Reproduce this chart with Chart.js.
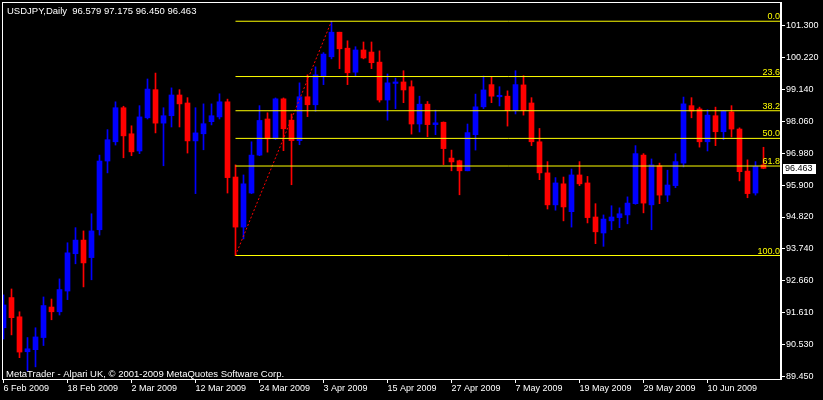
<!DOCTYPE html>
<html>
<head>
<meta charset="utf-8">
<script src="https://cdn.jsdelivr.net/npm/chart.js@4.4.1/dist/chart.umd.min.js"></script>
<style>
  html, body { margin: 0; padding: 0; background: #000; }
  canvas { display: block; }
</style>
</head>
<body>
<canvas id="chart" width="823" height="400"></canvas>
<script>
// USDJPY daily bars, 6 Feb 2009 .. 19 Jun 2009
const opens = [
  91.08, 92.10, 91.45, 90.27, 90.34, 90.75, 91.78, 91.62, 92.32, 93.58,
  94.04, 93.45, 94.39, 96.71, 97.36, 98.51, 97.63, 97.05, 98.17, 99.12,
  97.99, 98.24, 98.94, 98.67, 97.39, 97.63, 98.04, 98.20, 98.71, 96.17,
  94.48, 95.63, 96.91, 98.13, 97.46, 98.81, 98.09, 97.40, 98.88, 98.61,
  99.58, 100.23, 101.06, 100.52, 99.71, 100.46, 100.39, 100.05, 98.77, 99.33,
  99.38, 99.22, 97.96, 98.63, 97.94, 98.02, 96.81, 96.72, 96.38, 97.60,
  98.54, 99.29, 98.88, 98.90, 98.41, 99.28, 98.67, 97.36, 96.31, 95.23,
  95.94, 95.00, 96.24, 95.97, 94.82, 94.28, 94.69, 94.80, 94.89, 95.27,
  96.91, 95.23, 96.55, 95.56, 95.88, 96.64, 98.58, 98.47, 97.36, 98.24,
  97.70, 98.37, 97.79, 96.37, 95.63, 96.579
];
const highs = [
  92.19, 92.39, 91.62, 90.75, 91.08, 92.12, 92.05, 92.73, 93.95, 94.46,
  94.35, 94.93, 96.91, 97.77, 98.71, 98.56, 97.90, 98.58, 99.48, 99.68,
  98.51, 99.18, 99.12, 98.85, 98.51, 98.64, 98.64, 98.98, 98.80, 96.58,
  96.24, 97.36, 98.58, 98.34, 98.84, 98.84, 98.30, 99.35, 99.62, 99.89,
  100.37, 101.43, 101.06, 100.77, 100.57, 100.73, 100.73, 100.43, 99.65, 99.51,
  99.76, 99.42, 98.90, 98.72, 98.43, 98.03, 97.08, 96.74, 97.96, 98.97,
  99.58, 99.55, 99.22, 99.08, 99.76, 99.59, 98.85, 97.81, 96.69, 96.15,
  96.17, 96.44, 96.69, 96.19, 95.27, 94.89, 95.20, 95.13, 95.50, 97.23,
  96.96, 96.78, 96.64, 96.40, 96.96, 98.87, 98.85, 98.53, 98.44, 98.53,
  98.42, 98.58, 97.83, 96.75, 96.69, 97.175
];
const lows = [
  90.70, 90.84, 90.07, 89.62, 89.76, 90.48, 91.35, 91.51, 92.03, 93.24,
  92.46, 92.70, 94.21, 96.31, 97.25, 96.82, 96.89, 96.96, 98.13, 97.66,
  96.55, 97.86, 97.86, 96.98, 95.61, 97.09, 97.93, 98.13, 95.63, 93.52,
  94.08, 95.61, 96.89, 97.01, 97.44, 97.06, 95.91, 97.26, 98.21, 98.39,
  99.29, 100.16, 99.83, 99.29, 99.58, 100.16, 99.83, 98.70, 98.09, 98.48,
  98.68, 97.62, 97.69, 97.53, 97.60, 96.59, 96.38, 95.57, 96.38, 97.08,
  98.48, 98.68, 98.57, 97.89, 98.30, 98.26, 97.23, 96.08, 95.09, 95.05,
  94.69, 94.48, 95.88, 94.62, 93.92, 93.83, 94.39, 94.46, 94.59, 95.25,
  94.96, 94.39, 95.27, 95.34, 95.81, 96.51, 98.17, 97.18, 97.05, 97.23,
  97.43, 97.52, 96.04, 95.47, 95.56, 96.450
];
const closes = [
  91.85, 91.42, 90.26, 90.37, 90.77, 91.83, 91.62, 92.37, 93.61, 94.04,
  93.27, 94.35, 96.71, 97.43, 98.51, 97.56, 97.02, 98.20, 99.14, 97.99,
  98.24, 98.94, 98.64, 97.39, 97.66, 97.97, 98.24, 98.71, 96.15, 94.48,
  95.94, 96.91, 98.08, 97.46, 98.81, 97.80, 97.40, 98.88, 98.61, 99.62,
  100.32, 101.06, 100.50, 99.69, 100.46, 100.19, 100.03, 98.77, 99.35, 99.38,
  99.11, 97.96, 98.63, 97.94, 98.00, 97.13, 96.68, 96.38, 97.67, 98.54,
  99.11, 98.90, 98.93, 98.41, 99.29, 98.42, 97.36, 96.31, 95.23, 95.97,
  95.16, 96.24, 95.94, 94.80, 94.32, 94.75, 94.82, 94.93, 95.29, 96.96,
  95.29, 96.58, 95.56, 95.90, 96.69, 98.64, 98.40, 97.36, 98.26, 97.70,
  98.40, 97.79, 96.35, 95.61, 96.53, 96.463
];

const tickIdx = [0, 8, 16, 24, 32, 40, 48, 56, 64, 72, 80, 88];
const tickLabels = ['6 Feb 2009', '18 Feb 2009', '2 Mar 2009', '12 Mar 2009', '24 Mar 2009', '3 Apr 2009',
  '15 Apr 2009', '27 Apr 2009', '7 May 2009', '19 May 2009', '29 May 2009', '10 Jun 2009'];
const yTicks = [89.45, 90.53, 91.61, 92.66, 93.74, 94.82, 95.90, 96.98, 98.06, 99.14, 100.22, 101.30];

const fibLevels = [0, 23.6, 38.2, 50, 61.8, 100];
const fibLowBar = 29;   // 19 Mar low
const fibHighBar = 41;  // 6 Apr high

const X_MIN = -0.1875, X_MAX = 97.1875;
const FONT = '"Liberation Sans", Arial, sans-serif';
const UP = '#0000ff', DOWN = '#ff0000', FIB = '#ffff00';

const fibHigh = highs[fibHighBar], fibLow = lows[fibLowBar];
const fibValue = lvl => fibHigh - (fibHigh - fibLow) * lvl / 100;
const barColors = opens.map((o, i) => closes[i] > o ? UP : DOWN);

const fibSets = fibLevels.map(lvl => ({
    type: 'line',
    data: [{ x: fibLowBar, y: fibValue(lvl) }, { x: X_MAX, y: fibValue(lvl) }],
    borderColor: FIB,
    borderWidth: 1,
    pointRadius: 0,
    order: 0
}));

const mtText = {
    id: 'mtText',
    afterDraw(chart) {
        const { ctx, chartArea: a, scales } = chart;
        ctx.save();
        ctx.strokeStyle = '#ffffff';
        ctx.lineWidth = 1;
        ctx.strokeRect(a.left + 0.5, a.top + 0.5, a.right - a.left - 1, a.bottom - a.top);

        ctx.font = '9.5px ' + FONT;
        ctx.textBaseline = 'alphabetic';
        ctx.fillStyle = '#ffffff';
        ctx.textAlign = 'left';
        ctx.fillText('USDJPY,Daily  96.579 97.175 96.450 96.463', 7, 14);
        ctx.fillText('MetaTrader - Alpari UK, \u00a9 2001-2009 MetaQuotes Software Corp.', 6, 377);

        ctx.font = '9px ' + FONT;
        ctx.fillStyle = FIB;
        ctx.textAlign = 'right';
        fibLevels.forEach(lvl => {
            const y = scales.y.getPixelForValue(fibValue(lvl));
            ctx.fillText(lvl.toFixed(1), a.right - 1, y - 2);
        });

        // current price box
        const last = closes[closes.length - 1];
        const py = Math.round(scales.y.getPixelForValue(last));
        ctx.fillStyle = '#ffffff';
        ctx.fillRect(783, py - 4, 33, 10);
        ctx.fillStyle = '#000000';
        ctx.textAlign = 'left';
        ctx.textBaseline = 'middle';
        ctx.fillText(last.toFixed(3), 785, py + 1);
        ctx.restore();
    }
};

new Chart(document.getElementById('chart'), {
    data: {
        datasets: [
            {
                type: 'bar',
                data: lows.map((l, i) => ({ x: i, y: [l, highs[i]] })),
                backgroundColor: barColors,
                barThickness: 1,
                grouped: false,
                order: 3
            },
            {
                type: 'bar',
                data: opens.map((o, i) => ({ x: i, y: [o, closes[i]] })),
                backgroundColor: barColors,
                barThickness: 5,
                minBarLength: 1,
                grouped: false,
                order: 2
            },
            {
                type: 'line',
                data: [{ x: fibLowBar, y: fibLow }, { x: fibHighBar, y: fibHigh }],
                borderColor: DOWN,
                borderWidth: 1,
                borderDash: [2, 2],
                pointRadius: 0,
                order: 1
            },
            ...fibSets
        ]
    },
    options: {
        responsive: false,
        animation: false,
        layout: { padding: { left: 2, top: 2, right: 0, bottom: 0 } },
        plugins: { legend: { display: false }, tooltip: { enabled: false } },
        scales: {
            x: {
                type: 'linear',
                min: X_MIN,
                max: X_MAX,
                offset: false,
                afterBuildTicks: s => { s.ticks = tickIdx.map(v => ({ value: v })); },
                afterFit: s => { s.height = 21; s.paddingLeft = 0; s.paddingRight = 0; },
                ticks: {
                    color: '#ffffff',
                    font: { size: 9, family: FONT },
                    autoSkip: false,
                    maxRotation: 0,
                    align: 'start',
                    padding: 0,
                    labelOffset: 0,
                    callback: v => tickLabels[tickIdx.indexOf(v)]
                },
                grid: { drawOnChartArea: false, offset: false, tickLength: 4, color: '#ffffff' },
                border: { color: '#ffffff' }
            },
            y: {
                position: 'right',
                min: 89.35,
                max: 102.08,
                afterBuildTicks: s => { s.ticks = yTicks.map(v => ({ value: v })); },
                afterFit: s => { s.width = 42; s.paddingTop = 0; s.paddingBottom = 0; },
                ticks: {
                    color: '#ffffff',
                    font: { size: 9, family: FONT },
                    padding: 1,
                    callback: v => v.toFixed(3)
                },
                grid: { drawOnChartArea: false, tickLength: 4, color: '#ffffff' },
                border: { color: '#ffffff' }
            }
        }
    },
    plugins: [mtText]
});
</script>
</body>
</html>
